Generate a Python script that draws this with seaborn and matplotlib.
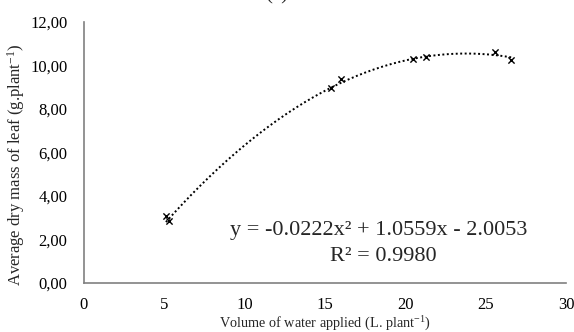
import matplotlib
matplotlib.use("Agg")
import matplotlib.pyplot as plt
import seaborn as sns
import numpy as np
import pandas as pd

water = [5.1, 5.3, 15.35, 16.0, 20.5, 21.3, 25.6, 26.6]
leaf_mass = [3.08, 2.85, 8.98, 9.38, 10.31, 10.40, 10.62, 10.25]
coef = [-0.0222, 1.0559, -2.0053]
x_ticks = [0, 5, 10, 15, 20, 25, 30]
y_ticks = [0, 2, 4, 6, 8, 10, 12]
y_tick_labels = ["0,00", "2,00", "4,00", "6,00", "8,00", "10,00", "12,00"]

sns.set_theme(style="white")
plt.rcParams["font.family"] = ["Liberation Serif", "DejaVu Serif"]
plt.rcParams["mathtext.fontset"] = "custom"
plt.rcParams["mathtext.rm"] = "Liberation Serif"
plt.rcParams["mathtext.it"] = "Liberation Serif:italic"
plt.rcParams["mathtext.bf"] = "Liberation Serif:bold"
plt.rcParams["mathtext.default"] = "rm"

fig = plt.figure(figsize=(5.74, 3.32), dpi=100)
ax = fig.add_axes([84/574, 1-283/332, (566-84)/574, (283-22)/332])

df = pd.DataFrame({"x": water, "y": leaf_mass})
sns.scatterplot(data=df, x="x", y="y", marker="x", color="black", s=20,
                linewidth=1.0, ax=ax, zorder=3)

xs = np.linspace(min(water), max(water), 200)
ys = np.polyval(coef, xs)
ax.plot(xs, ys, linestyle=(0, (1, 1.3)), color="black", linewidth=1.4)

ax.set_xlim(0, 30)
ax.set_ylim(0, 12)
ax.set_xticks(x_ticks)
ax.set_xticklabels([str(t) for t in x_ticks])
ax.set_yticks(y_ticks)
ax.set_yticklabels(y_tick_labels)
ax.tick_params(axis="both", labelsize=12, length=0, colors="black")
ax.tick_params(axis="y", pad=12)
ax.tick_params(axis="x", pad=10)
for s in ["top", "right"]:
    ax.spines[s].set_visible(False)
for s in ["left", "bottom"]:
    ax.spines[s].set_color("#808080")
    ax.spines[s].set_linewidth(1.2)

ax.set_xlabel("Volume of water applied (L. plant$^{-1}$)", fontsize=10.3, labelpad=1)
ax.set_ylabel("Average dry mass of leaf (g.plant$^{-1}$)", fontsize=12)
ax.yaxis.set_label_coords(-0.118, 0.452)

ax.text(0.612, 0.2, "y = -0.0222x² + 1.0559x - 2.0053", transform=ax.transAxes,
        ha="center", va="center", fontsize=16)
ax.text(0.622, 0.103, "R² = 0.9980", transform=ax.transAxes,
        ha="center", va="center", fontsize=16)

fig.text(0.482, 1 - 4/332, "(a)", ha="center", va="bottom", fontsize=15)

fig.savefig("out.png", dpi=100)
